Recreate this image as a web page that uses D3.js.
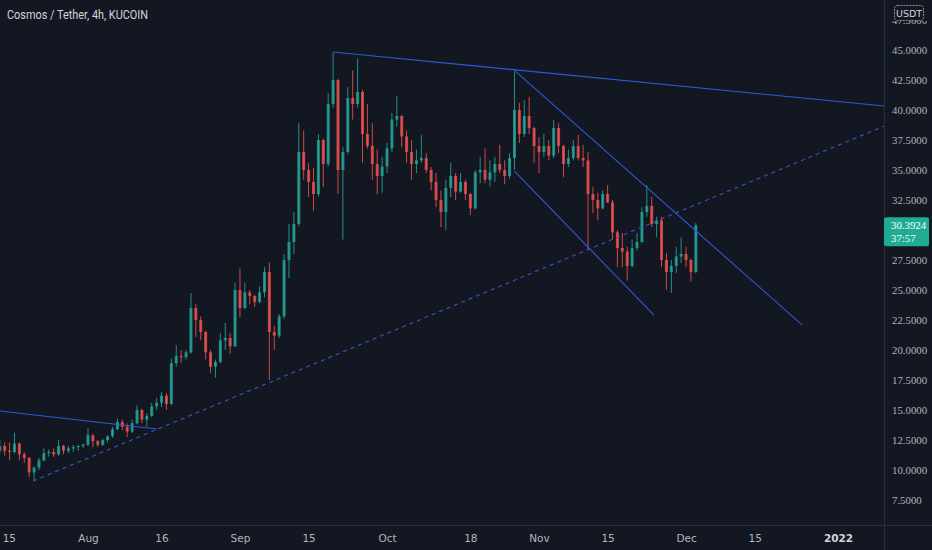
<!DOCTYPE html>
<html><head><meta charset="utf-8">
<script src="https://cdn.jsdelivr.net/npm/d3@7"></script>
<style>
html,body{margin:0;padding:0;background:#131722;}
svg{display:block;}
</style></head>
<body>
<svg id="c" width="932" height="550"></svg>
<script>
// ---------- DATA ----------
const firstDay = "2021-07-14"; // one candle per day (aggregated from 4h view)
const opens = [11.6,12.0,11.6,11.5,12.2,11.3,11.0,9.8,10.2,10.8,11.4,11.5,11.3,12.0,11.6,11.8,11.9,12.0,
 12.1,12.9,12.4,12.1,12.5,12.8,13.4,14.0,13.6,13.2,13.9,15.0,14.2,14.5,15.3,15.6,16.2,15.5,18.9,19.5,19.4,19.8,
 23.5,22.5,21.5,19.8,18.6,19.0,20.8,21.0,20.3,25.0,23.5,24.8,24.5,24.0,24.8,26.5,21.5,21.2,22.8,27.5,29.0,30.5,
 36.5,35.0,34.0,33.0,37.5,35.5,40.5,42.5,35.0,36.5,41.0,40.5,41.5,38.0,37.0,35.5,34.5,35.3,36.8,39.2,39.5,37.8,
 36.5,35.5,35.8,36.0,35.0,34.0,32.5,31.5,33.5,34.5,33.2,34.0,33.0,31.8,34.8,35.0,34.2,34.8,35.5,35.0,34.5,36.0,
 40.0,38.0,39.5,38.5,37.0,36.5,37.0,36.2,38.5,37.0,35.5,36.0,37.0,36.0,35.8,33.0,32.5,31.8,33.0,32.3,29.8,28.5,
 28.2,27.0,28.5,29.0,31.5,32.0,30.5,30.8,27.5,26.5,27.0,27.8,28.0,27.5,26.5];
const highs = [12.5,12.3,12.3,13.1,12.3,11.5,11.1,10.3,11.0,11.8,11.7,11.8,12.5,12.1,12.0,12.1,12.1,12.2,
 13.5,13.0,12.5,12.6,12.9,13.6,14.3,14.2,13.9,14.2,15.4,15.1,14.75,15.6,16.0,16.5,16.4,19.3,20.4,20.0,20.0,24.75,
 23.8,22.8,21.6,20.0,19.2,21.4,22.25,21.4,25.6,26.8,25.6,25.0,24.6,25.3,26.9,27.3,22.0,23.0,28.0,30.5,31.5,38.9,
 38.3,35.6,35.2,38.0,37.6,41.4,44.8,42.6,36.9,41.9,43.3,44.3,41.7,40.5,38.9,36.7,36.1,37.25,39.75,41.2,39.6,38.3,
 37.5,36.7,37.9,36.4,35.25,34.75,33.3,34.2,35.6,34.75,34.75,34.2,33.1,35.0,36.1,36.8,35.8,36.1,37.1,35.8,36.4,43.2,
 40.6,40.8,41.1,38.6,37.75,38.0,37.5,39.2,38.9,37.1,36.7,37.5,37.9,37.1,36.5,33.6,33.1,33.3,33.75,32.5,30.0,29.75,
 28.6,29.2,29.75,31.9,33.75,32.75,31.1,31.1,28.1,27.5,28.6,29.4,28.6,27.6,30.6];
const lows = [11.4,11.2,10.8,11.4,10.8,10.6,9.4,9.1,10.0,10.7,11.1,11.1,11.2,11.3,11.4,11.5,11.6,11.8,
 12.0,11.9,11.9,12.0,12.3,12.7,13.3,13.3,12.75,13.1,13.8,13.9,13.6,14.4,15.0,15.25,15.0,15.4,18.6,18.9,19.2,19.7,
 21.1,20.8,19.2,18.1,17.7,18.9,20.0,19.7,20.25,22.75,23.4,23.8,23.6,23.9,24.4,17.5,20.0,21.0,22.6,26.0,28.0,30.3,
 34.2,32.75,31.6,32.8,33.6,35.3,40.2,33.0,29.2,36.3,39.2,40.2,35.6,36.8,34.2,33.0,33.1,34.75,36.5,38.6,36.9,35.6,
 34.2,34.75,35.6,34.75,33.3,31.9,30.25,30.0,32.75,32.5,33.1,32.5,31.25,31.7,33.9,33.9,33.6,34.0,34.75,33.8,34.3,35.0,
 37.25,37.75,38.0,35.6,34.75,36.1,35.8,36.0,36.4,34.4,35.25,35.8,35.8,35.25,28.3,31.4,30.8,31.7,32.25,29.2,26.9,26.9,
 25.8,26.9,28.3,28.9,31.1,30.25,29.4,26.9,25.0,24.75,26.4,27.25,26.9,25.7,26.4];
const closes = [12.0,11.6,11.5,12.2,11.3,11.0,9.8,10.2,10.8,11.4,11.5,11.3,12.0,11.6,11.8,11.9,12.0,12.1,
 12.9,12.4,12.1,12.5,12.8,13.4,14.0,13.6,13.2,13.9,15.0,14.2,14.5,15.3,15.6,16.2,15.5,18.9,19.5,19.4,19.8,23.5,
 22.5,21.5,19.8,18.6,19.0,20.8,21.0,20.3,25.0,23.5,24.8,24.5,24.0,24.8,26.5,21.5,21.2,22.8,27.5,29.0,30.5,36.5,
 35.0,34.0,33.0,37.5,35.5,40.5,42.5,35.0,36.5,41.0,40.5,41.5,38.0,37.0,35.5,34.5,35.3,36.8,39.2,39.5,37.8,36.5,
 35.5,35.8,36.0,35.0,34.0,32.5,31.5,33.5,34.5,33.2,34.0,33.0,31.8,34.8,35.0,34.2,34.8,35.5,35.0,34.5,36.0,40.0,
 38.0,39.5,38.5,37.0,36.5,37.0,36.2,38.5,37.0,35.5,36.0,37.0,36.0,35.8,33.0,32.5,31.8,33.0,32.3,29.8,28.5,28.2,
 27.0,28.5,29.0,31.5,32.0,30.5,30.8,27.5,26.5,27.0,27.8,28.0,27.5,26.5,30.3924];

// trend lines: [date, price] anchor pairs
const trendLines = [
  {a:["2021-09-20T00:00",44.83], b:["2021-10-27T00:00",43.35], extend:true,  dash:false},
  {a:["2021-07-14T00:00",14.92], b:["2021-08-15T02:00",13.42], extend:false, dash:false},
  {a:["2021-07-20T19:00",9.08],  b:["2021-11-10T19:00",28.33], extend:true,  dash:true},
  {a:["2021-10-27T00:00",43.3],  b:["2021-12-24T16:00",22.1],  extend:false, dash:false},
  {a:["2021-10-27T00:00",34.9],  b:["2021-11-24T11:00",22.9],  extend:false, dash:false}
];

const timeTickDates = ["2021-07-15","2021-08-01","2021-08-16","2021-09-01","2021-09-15","2021-10-01","2021-10-18","2021-11-01","2021-11-15","2021-12-01","2021-12-15","2022-01-01"];
const timeTickLabels = ["15","Aug","16","Sep","15","Oct","18","Nov","15","Dec","15","2022"];
const priceTicks = [7.5,10,12.5,15,17.5,20,22.5,25,27.5,30,32.5,35,37.5,40,42.5,45,47.5];
const lastPrice = 30.3924, countdown = "37:57";
const title = "Cosmos / Tether, 4h, KUCOIN";
const currency = "USDT";

// ---------- LAYOUT ----------
const W = 932, H = 550, plotR = 884, plotB = 525;
const svg = d3.select("#c");
const parse = s => new Date(s + (s.length === 10 ? "T00:00:00Z" : ":00Z"));
const x = d3.scaleUtc().domain([parse("2021-08-01"), parse("2022-01-01")]).range([88, 838]);
const y = d3.scaleLinear().domain([7.5, 45]).range([500, 50]);

svg.append("rect").attr("width", W).attr("height", H).attr("fill", "#131722");
const defs = svg.append("defs");
defs.append("clipPath").attr("id", "plot")
  .append("rect").attr("x", 0).attr("y", 0).attr("width", plotR).attr("height", plotB);
defs.append("clipPath").attr("id", "axisclip")
  .append("rect").attr("x", plotR).attr("y", 21).attr("width", W - plotR).attr("height", plotB - 21);

const plot = svg.append("g").attr("clip-path", "url(#plot)");

// candles
const start = parse(firstDay);
const dates = d3.utcDay.range(start, d3.utcDay.offset(start, closes.length));
const candles = dates.map((d, i) => ({d, o: opens[i], h: highs[i], l: lows[i], c: closes[i]}));
const up = "#26a69a", down = "#ef5350";
const cg = plot.append("g");
cg.selectAll("line").data(candles).join("line")
  .attr("x1", d => x(d.d)).attr("x2", d => x(d.d))
  .attr("y1", d => y(d.h)).attr("y2", d => y(d.l))
  .attr("stroke", d => d.c >= d.o ? up : down).attr("stroke-width", 1).attr("opacity", 0.85);
cg.selectAll("rect").data(candles).join("rect")
  .attr("x", d => x(d.d) - 1.5).attr("width", 3)
  .attr("y", d => y(Math.max(d.o, d.c)))
  .attr("height", d => Math.max(1, Math.abs(y(d.o) - y(d.c))))
  .attr("fill", d => d.c >= d.o ? up : down).attr("opacity", 0.8);

// trend lines
trendLines.forEach(t => {
  let x1 = x(parse(t.a[0])), y1 = y(t.a[1]), x2 = x(parse(t.b[0])), y2 = y(t.b[1]);
  if (t.extend) { const k = (y2 - y1) / (x2 - x1); y2 = y1 + k * (plotR - x1); x2 = plotR; }
  plot.append("line").attr("x1", x1).attr("y1", y1).attr("x2", x2).attr("y2", y2)
    .attr("stroke", t.dash ? "#3f51c8" : "#2f5ad6").attr("stroke-width", 1.1)
    .attr("stroke-dasharray", t.dash ? "4,4" : null);
});

// separators
svg.append("line").attr("x1", plotR + 0.5).attr("x2", plotR + 0.5).attr("y1", 0).attr("y2", H).attr("stroke", "#2a2e39");
svg.append("line").attr("x1", 0).attr("x2", W).attr("y1", plotB + 0.5).attr("y2", plotB + 0.5).attr("stroke", "#2a2e39");

// time axis
const xAxis = d3.axisBottom(x).tickValues(timeTickDates.map(parse))
  .tickFormat((d, i) => timeTickLabels[i]).tickSize(0).tickPadding(0);
const gx = svg.append("g").attr("transform", `translate(0,${plotB})`).call(xAxis);
gx.select(".domain").remove();
gx.selectAll("text").attr("y", 17).attr("dy", 0)
  .attr("fill", (d, i) => timeTickLabels[i] === "2022" ? "#d1d4dc" : "#b2b5be")
  .attr("font-weight", (d, i) => timeTickLabels[i] === "2022" ? "bold" : "normal")
  .attr("font-family", "'DejaVu Sans', sans-serif").attr("font-size", 10.5)
  .attr("text-anchor", (d, i) => i === 0 ? "start" : "middle")
  .attr("dx", (d, i) => i === 0 ? -2.5 : 0);

// price axis (tick labels hidden behind the last-price tag are skipped)
const ly = y(lastPrice);
const yAxis = d3.axisRight(y).tickValues(priceTicks.filter(p => Math.abs(y(p) - ly) > 16))
  .tickFormat(d3.format(".4f")).tickSize(0).tickPadding(0);
const gy = svg.append("g").attr("clip-path", "url(#axisclip)").append("g")
  .attr("transform", `translate(892,0)`).call(yAxis);
gy.select(".domain").remove();
gy.selectAll("text").attr("fill", "#b2b5be").attr("font-family", "'Liberation Serif', serif").attr("font-size", 10.8);

// currency box
svg.append("rect").attr("x", 894.5).attr("y", 5.5).attr("width", 29).attr("height", 15).attr("rx", 3)
  .attr("fill", "#131722").attr("stroke", "#b2b5be").attr("stroke-width", 0.8).attr("stroke-dasharray", "2,1");
svg.append("text").attr("x", 909).attr("y", 17).attr("text-anchor", "middle").attr("fill", "#d1d4dc")
  .attr("font-family", "'DejaVu Sans', sans-serif").attr("font-size", 9.5).text(currency);

// last price label
svg.append("rect").attr("x", plotR).attr("y", ly - 8).attr("width", 45).attr("height", 29).attr("rx", 2).attr("fill", "#22ab94");
svg.append("text").attr("x", 891).attr("y", ly + 4).attr("fill", "#fff").attr("font-family", "'Liberation Serif', serif").attr("font-size", 10.8).text(d3.format(".4f")(lastPrice));
svg.append("text").attr("x", 891).attr("y", ly + 17).attr("fill", "#fff").attr("font-family", "'Liberation Serif', serif").attr("font-size", 10.8).text(countdown);

// title
svg.append("text").attr("x", 7).attr("y", 19).attr("fill", "#d1d4dc")
  .attr("font-family", "Roboto, sans-serif").attr("font-size", 12)
  .attr("textLength", 141).attr("lengthAdjust", "spacingAndGlyphs").text(title);
</script>
</body></html>
